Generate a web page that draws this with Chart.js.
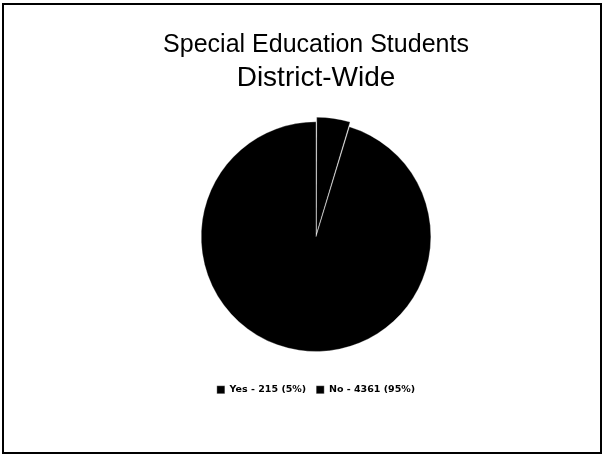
<!DOCTYPE html>
<html>
<head>
<meta charset="utf-8">
<script src="https://cdn.jsdelivr.net/npm/chart.js@4"></script>
<style>
  html, body { margin: 0; padding: 0; background: #fff; }
  #wrap { position: relative; width: 605px; height: 457px; }
  #frame { position: absolute; left: 2px; top: 3px; width: 596px; height: 447px; border: 2px solid #000; pointer-events: none; }
  canvas { position: absolute; left: 0; top: 0; }
</style>
</head>
<body>
<div id="wrap">
  <canvas id="c" width="605" height="457"></canvas>
  <div id="frame"></div>
</div>
<script>
const categories = ["Yes", "No"];
const counts = [215, 4361];
const percents = [5, 95];
const titleLine1 = "Special Education Students";
const titleLine2 = "District-Wide";

const labels = categories.map((c, i) => c + " - " + counts[i] + " (" + percents[i] + "%)");

new Chart(document.getElementById('c'), {
  type: 'pie',
  data: {
    labels: labels,
    datasets: [{
      data: counts,
      backgroundColor: ['#000000', '#000000'],
      borderColor: 'rgba(255,255,255,0.3)',
      borderWidth: 1,
      offset: [11, 0]
    }]
  },
  options: {
    responsive: false,
    animation: false,
    devicePixelRatio: 1,
    layout: { padding: { left: 27, right: 0, top: 0, bottom: 52.5 } },
    plugins: {
      title: {
        display: true,
        text: titleLine1,
        color: '#000',
        font: { family: 'Liberation Sans', size: 25, weight: 'normal' },
        padding: { top: 30, bottom: 1.2 }
      },
      subtitle: {
        display: true,
        text: titleLine2,
        color: '#000',
        font: { family: 'Liberation Sans', size: 28, weight: 'normal' },
        padding: { top: 0, bottom: 21 }
      },
      legend: {
        position: 'bottom',
        title: {
          display: true,
          text: '',
          font: { size: 10 },
          padding: { top: 5.5, bottom: 0 }
        },
        labels: {
          color: '#000',
          boxWidth: 8,
          boxHeight: 8,
          padding: 10,
          font: { family: 'DejaVu Sans', size: 9.5, weight: 'bold' }
        }
      },
      tooltip: { enabled: false }
    }
  }
});
</script>
</body>
</html>
